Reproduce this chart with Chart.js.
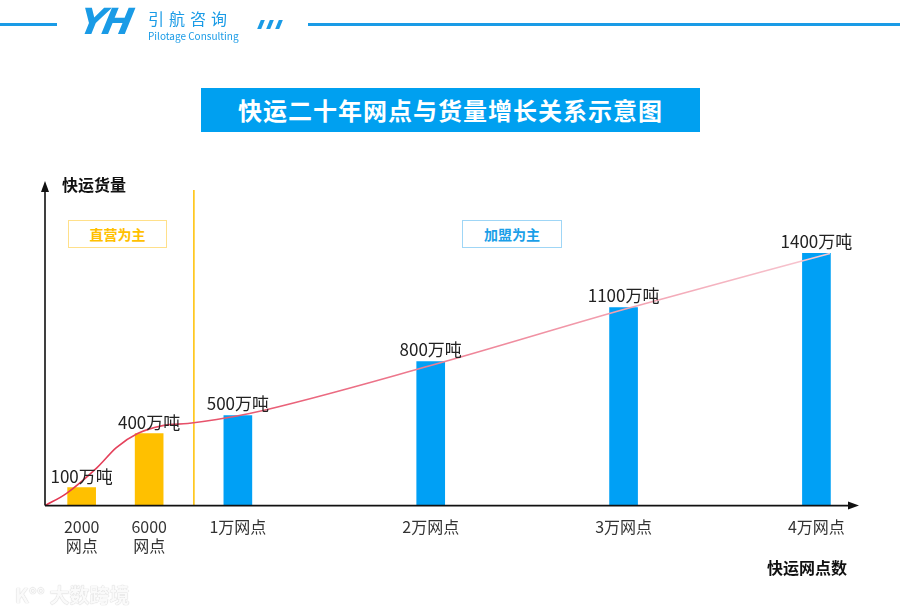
<!DOCTYPE html>
<html>
<head>
<meta charset="utf-8">
<script src="https://cdn.jsdelivr.net/npm/chart.js@4/dist/chart.umd.min.js"></script>
<style>
  body { margin: 0; background: #fff; font-family: "Noto Sans CJK SC", "Noto Sans", sans-serif; }
  #wrap { position: relative; width: 900px; height: 611px; overflow: hidden; }
  #wrap canvas { position: absolute; left: 0; top: 0; }
  .abs { position: absolute; white-space: nowrap; }
  .hline { position: absolute; height: 3px; background: #1a9be6; top: 23px; }
  .slash { position: absolute; top: 20px; width: 4px; height: 9px; background: #1a9be6; transform: skewX(-22deg); }
  .tag { position: absolute; height: 26px; line-height: 26px; text-align: center; font-weight: bold; font-size: 14px; background: #fff; }
</style>
</head>
<body>
<div id="wrap">
  <canvas id="chart" width="900" height="611"></canvas>

  <!-- header -->
  <div class="hline" style="left:0;width:57px"></div>
  <div class="abs" style="left:80px;top:1px;font:italic 900 36px 'DejaVu Sans',sans-serif;color:#1a9be6;letter-spacing:-3px;transform:skewX(-12deg)">YH</div>
  <div class="abs" style="left:148px;top:6px;font-size:16px;color:#1a9be6;letter-spacing:5px">引航咨询</div>
  <div class="abs" style="left:148px;top:28px;font-size:10px;color:#1a9be6">Pilotage Consulting</div>
  <div class="slash" style="left:259px"></div>
  <div class="slash" style="left:268px"></div>
  <div class="slash" style="left:277px"></div>
  <div class="hline" style="left:308px;width:592px"></div>

  <!-- title -->
  <div class="abs" style="left:201px;top:88px;width:499px;height:44px;background:#00a0f0;color:#fff;font-weight:bold;font-size:24px;line-height:44px;text-align:center;letter-spacing:1px">快运二十年网点与货量增长关系示意图</div>

  <!-- axis titles -->
  <div class="abs" style="left:62px;top:172px;font-weight:bold;font-size:16px;color:#111">快运货量</div>
  <div class="abs" style="left:767px;top:555px;font-weight:bold;font-size:16px;color:#111">快运网点数</div>

  <!-- stage tags -->
  <div class="tag" style="left:68px;top:220px;width:97px;border:1.5px solid #ffe08a;color:#ffc000">直营为主</div>
  <div class="tag" style="left:462px;top:220px;width:98px;border:1.5px solid #9fd6f6;color:#1a9fe8">加盟为主</div>

  <!-- watermark -->
  <div class="abs" style="left:15px;top:580px;font-size:20px;font-weight:bold;color:#fafafa;text-shadow:0 0 1px #d0d0d0,0 0 1px #d0d0d0">K°° 大数跨境</div>
</div>

<script>
// outlet count positions on the x axis (1 = 1万网点)
const categories = ['2000网点', '6000网点', '1万网点', '2万网点', '3万网点', '4万网点'];
const outletPos = [0.19, 0.54, 1, 2, 3, 4];
const tickLabels = [['2000', '网点'], ['6000', '网点'], '1万网点', '2万网点', '3万网点', '4万网点'];
const stage = ['直营', '直营', '加盟', '加盟', '加盟', '加盟'];

// freight volume, 万吨
const freight = [100, 400, 500, 800, 1100, 1400];
const valueLabels = ['100万吨', '400万吨', '500万吨', '800万吨', '1100万吨', '1400万吨'];

// growth curve
const curveX = [0, 0.11, 0.27, 0.37, 0.48, 0.61, 0.74, 0.89, 1.06, 2, 3, 4.07];
const curveY = [0, 67, 211, 322, 400, 444, 456, 478, 511, 778, 1089, 1400];

const dividerAt = 0.772; // 直营 / 加盟 split

const ORANGE = '#ffc000';
const BLUE = '#00a0f5';

const bars = outletPos.map((x, i) => ({ x: x, y: freight[i] }));
const curve = curveX.map((x, i) => ({ x: x, y: curveY[i] }));

const decor = {
  id: 'decor',
  beforeDatasetsDraw(chart) {
    const { ctx, chartArea: a, scales } = chart;
    const x = scales.x.getPixelForValue(dividerAt);
    ctx.save();
    ctx.strokeStyle = ORANGE;
    ctx.lineWidth = 1.5;
    ctx.beginPath();
    ctx.moveTo(x, a.top + 5);
    ctx.lineTo(x, a.bottom);
    ctx.stroke();
    ctx.restore();
  },
  afterDatasetsDraw(chart) {
    const { ctx, chartArea: a } = chart;
    ctx.save();
    // axes with arrows
    ctx.strokeStyle = '#111';
    ctx.fillStyle = '#111';
    ctx.lineWidth = 1.6;
    ctx.beginPath();
    ctx.moveTo(a.left, a.bottom);
    ctx.lineTo(a.left, a.top + 4);
    ctx.moveTo(a.left, a.bottom);
    ctx.lineTo(a.right - 4, a.bottom);
    ctx.stroke();
    ctx.beginPath();
    ctx.moveTo(a.left, a.top - 4);
    ctx.lineTo(a.left - 4, a.top + 7);
    ctx.lineTo(a.left + 4, a.top + 7);
    ctx.closePath();
    ctx.fill();
    ctx.beginPath();
    ctx.moveTo(a.right + 4, a.bottom);
    ctx.lineTo(a.right - 7, a.bottom - 4);
    ctx.lineTo(a.right - 7, a.bottom + 4);
    ctx.closePath();
    ctx.fill();

    // value labels
    const meta = chart.getDatasetMeta(0);
    ctx.fillStyle = '#222';
    ctx.font = '17px "Noto Sans CJK SC", sans-serif';
    ctx.textAlign = 'center';
    ctx.textBaseline = 'bottom';
    meta.data.forEach((bar, i) => {
      ctx.fillText(valueLabels[i], bar.x, bar.y - 3);
    });
    ctx.restore();
  }
};

new Chart(document.getElementById('chart'), {
  data: {
    datasets: [
      {
        type: 'bar',
        label: '快运货量',
        data: bars,
        backgroundColor: stage.map(s => s === '直营' ? ORANGE : BLUE),
        barThickness: 28,
        order: 2
      },
      {
        type: 'line',
        label: '增长曲线',
        data: curve,
        borderColor(c) {
          const a = c.chart.chartArea;
          if (!a) return '#e85a70';
          const g = c.chart.ctx.createLinearGradient(a.left, 0, a.right, 0);
          g.addColorStop(0, '#e2344f');
          g.addColorStop(0.4, '#ec7288');
          g.addColorStop(1, '#f8cdd6');
          return g;
        },
        borderWidth: 1.6,
        pointRadius: 0,
        cubicInterpolationMode: 'monotone',
        fill: false,
        order: 1
      }
    ]
  },
  options: {
    responsive: false,
    animation: false,
    layout: { padding: { left: 45, right: 45, top: 185, bottom: 51 } },
    plugins: { legend: { display: false }, tooltip: { enabled: false } },
    scales: {
      x: {
        type: 'linear',
        min: 0,
        max: 4.2,
        offset: false,
        grid: { display: false },
        border: { display: false },
        afterBuildTicks(scale) {
          scale.ticks = outletPos.map(v => ({ value: v }));
        },
        ticks: {
          autoSkip: false,
          maxRotation: 0,
          padding: 4,
          color: '#333',
          font: { size: 16, family: '"Noto Sans CJK SC", sans-serif', lineHeight: 1.2 },
          callback(value, index) { return tickLabels[index]; }
        }
      },
      y: {
        display: false,
        min: 0,
        max: 1780
      }
    }
  },
  plugins: [decor]
});
</script>
</body>
</html>
